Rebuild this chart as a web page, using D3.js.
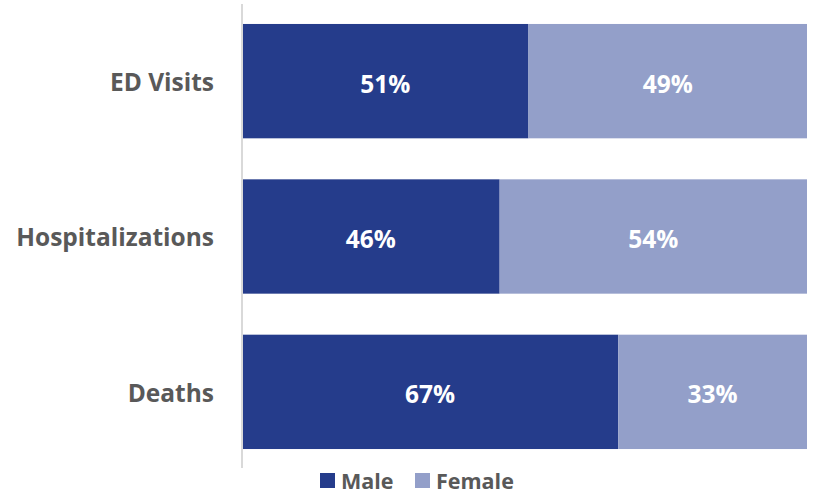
<!DOCTYPE html>
<html>
<head>
<meta charset="utf-8">
<script src="https://cdn.jsdelivr.net/npm/d3@7"></script>
<style>
  body { margin: 0; background: #fff; }
  svg { display: block; font-family: "Open Sans", "Segoe UI", sans-serif; }
</style>
</head>
<body>
<svg id="chart"></svg>
<script>
const categories = ["ED Visits", "Hospitalizations", "Deaths"];
const maleShare = [50.7, 45.6, 66.6];
const femaleShare = [49.3, 54.4, 33.4];
const seriesNames = ["Male", "Female"];
const seriesColors = ["#253c8b", "#939fc9"];

const width = 814;
const height = 495;
const margin = { top: 3, right: 7, bottom: 25, left: 242 };

const svg = d3.select("#chart").attr("width", width).attr("height", height);

const rows = categories.map((c, i) => ({ cat: c, Male: maleShare[i], Female: femaleShare[i] }));
const stacked = d3.stack().keys(seriesNames)(rows);

const xScale = d3.scaleLinear()
  .domain([0, 100])
  .range([margin.left, width - margin.right]);

const yScale = d3.scaleBand()
  .domain(categories)
  .range([margin.top, height - margin.bottom])
  .paddingInner(0.264)
  .paddingOuter(0.135);

const color = d3.scaleOrdinal().domain(seriesNames).range(seriesColors);

// bars
svg.selectAll("g.series")
  .data(stacked)
  .enter()
  .append("g")
  .attr("class", "series")
  .attr("fill", d => color(d.key))
  .selectAll("rect")
  .data(d => d)
  .enter()
  .append("rect")
  .attr("x", d => xScale(d[0]))
  .attr("y", d => yScale(d.data.cat))
  .attr("width", d => xScale(d[1]) - xScale(d[0]))
  .attr("height", yScale.bandwidth());

// value labels
svg.selectAll("g.labels")
  .data(stacked)
  .enter()
  .append("g")
  .attr("class", "labels")
  .selectAll("text")
  .data(d => d)
  .enter()
  .append("text")
  .attr("x", d => (xScale(d[0]) + xScale(d[1])) / 2)
  .attr("y", d => yScale(d.data.cat) + yScale.bandwidth() / 2 + 2)
  .attr("text-anchor", "middle")
  .attr("dominant-baseline", "central")
  .attr("fill", "#ffffff")
  .style("font-weight", "bold")
  .style("font-size", "24.5px")
  .text(d => Math.round(d[1] - d[0]) + "%");

// y axis
let yAxis = d3.axisLeft(yScale).tickSize(0).tickPadding(28);
const yg = svg.append("g")
  .attr("transform", "translate(" + margin.left + ",2)")
  .call(yAxis);
yg.select(".domain").remove();
yg.selectAll("text")
  .attr("fill", "#595959")
  .style("font-weight", "bold")
  .style("font-size", "24.5px")
  .style("font-family", "'Open Sans', sans-serif");

svg.append("line")
  .attr("x1", margin.left)
  .attr("x2", margin.left)
  .attr("y1", 4)
  .attr("y2", 468)
  .attr("stroke", "#d9d9d9")
  .attr("stroke-width", 2);

// legend
const legendX = [320, 415];
const legend = svg.selectAll("g.legend")
  .data(seriesNames)
  .enter()
  .append("g")
  .attr("class", "legend")
  .attr("transform", (d, i) => "translate(" + legendX[i] + ",473)");
legend.append("rect")
  .attr("width", 15)
  .attr("height", 15)
  .attr("fill", d => color(d));
legend.append("text")
  .attr("x", 21)
  .attr("y", 7.5)
  .attr("dominant-baseline", "central")
  .attr("fill", "#595959")
  .style("font-weight", "bold")
  .style("font-size", "21.5px")
  .text(d => d);
</script>
</body>
</html>
